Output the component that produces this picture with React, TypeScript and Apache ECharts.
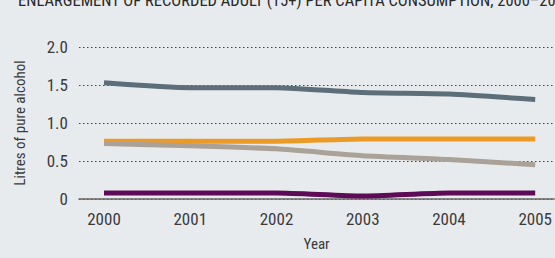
import React, { useEffect, useRef } from "react";
import * as echarts from "echarts";

const years = [2000, 2001, 2002, 2003, 2004, 2005];
const seriesNames = ["Series A", "Series B", "Series C", "Series D"];
const blueGrey = [1.53, 1.465, 1.465, 1.4, 1.38, 1.31];
const orange = [0.76, 0.76, 0.76, 0.79, 0.79, 0.79];
const tan = [0.73, 0.7, 0.66, 0.57, 0.52, 0.45];
const purple = [0.08, 0.08, 0.08, 0.04, 0.08, 0.08];
const colors = ["#5c6e79", "#eb9a26", "#aaa198", "#5e0b57"];
const titleText = "ENLARGEMENT OF RECORDED ADULT (15+) PER CAPITA CONSUMPTION, 2000–2005";

const FONT = "'Liberation Sans Narrow', 'Roboto Condensed', 'Liberation Sans', sans-serif";

export default function App() {
  const ref = useRef<HTMLDivElement>(null);
  useEffect(() => {
    if (!ref.current) return;
    const chart = echarts.init(ref.current, null, { renderer: "svg" });
    const allData = [blueGrey, orange, tan, purple];
    chart.setOption({
      animation: false,
      backgroundColor: "#e8ebee",
      textStyle: { fontFamily: FONT },
      graphic: [
        {
          type: "text",
          left: 18,
          top: -8,
          style: { text: titleText, font: `16.5px ${FONT}`, fill: "#2a2a2a" },
        },
      ],
      grid: { left: 79, right: 0, top: 47, bottom: 59 },
      xAxis: {
        type: "value",
        min: 1999.71,
        max: 2005.22,
        name: "Year",
        nameLocation: "middle",
        nameGap: 37,
        nameTextStyle: { fontSize: 15, color: "#3a3a3a", fontFamily: FONT },
        axisLine: { show: true, onZero: false, lineStyle: { color: "#666", width: 1.5 } },
        axisTick: { show: false },
        splitLine: { show: false },
        axisLabel: {
          customValues: years,
          formatter: (v: number) => String(Math.round(v)),
          fontSize: 17,
          color: "#3a3a3a",
          margin: 11,
          fontFamily: FONT,
        },
      },
      yAxis: {
        type: "value",
        min: 0,
        max: 2,
        interval: 0.5,
        name: "Litres of pure alcohol",
        nameLocation: "middle",
        nameGap: 52,
        nameTextStyle: { fontSize: 15, color: "#3a3a3a", fontFamily: FONT },
        axisLine: { show: false },
        axisTick: { show: false },
        axisLabel: {
          formatter: (v: number) => (v === 0 ? "0" : v.toFixed(1)),
          fontSize: 17,
          color: "#3a3a3a",
          margin: 11,
          fontFamily: FONT,
        },
        splitLine: {
          show: true,
          lineStyle: { color: "#444", type: [1.5, 2.5], width: 1 },
        },
      },
      series: allData.map((d, i) => ({
        name: seriesNames[i],
        type: "line",
        data: d.map((v, j) => [years[j], v]),
        showSymbol: false,
        smooth: 0.2,
        lineStyle: { color: colors[i], width: 5 },
        itemStyle: { color: colors[i] },
        z: 3,
      })),
    });
    return () => chart.dispose();
  }, []);
  return <div ref={ref} style={{ width: 555, height: 258, position: "absolute", left: 0, top: 0 }} />;
}
